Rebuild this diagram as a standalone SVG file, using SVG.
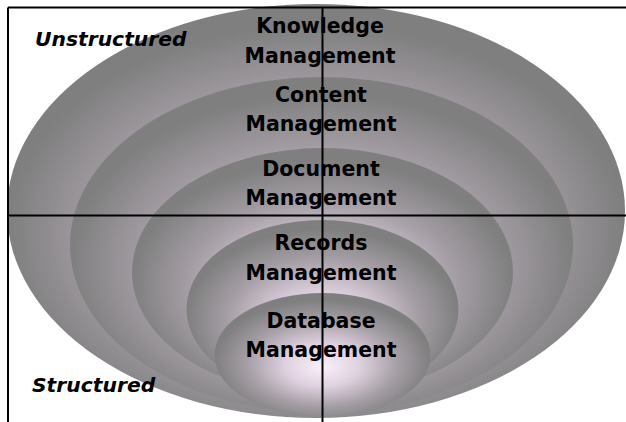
<svg xmlns="http://www.w3.org/2000/svg" width="626" height="422" viewBox="0 0 626 422">
  <defs>
    <radialGradient id="glow" cx="0.5" cy="0.55" r="0.5" fx="0.5" fy="0.6">
      <stop offset="0" stop-color="#fcf0fc"/>
      <stop offset="0.35" stop-color="#ded0de"/>
      <stop offset="0.7" stop-color="#a59ea5"/>
      <stop offset="1" stop-color="#7f7f7f"/>
    </radialGradient>
  </defs>
  <style>
    .ring { fill: url(#glow); }
    .label { font-family: "DejaVu Sans", Verdana, sans-serif; font-weight: bold; font-size: 20.5px; fill: #000; text-anchor: middle; }
    .axis-label { font-family: "DejaVu Sans", Verdana, sans-serif; font-weight: bold; font-style: italic; font-size: 20.3px; fill: #000; }
    .axis { stroke: #000; stroke-width: 2; fill: none; }
  </style>
  <rect width="626" height="422" fill="#fff"/>

  <g id="knowledge-management">
    <ellipse class="ring" cx="316" cy="211" rx="309" ry="207"/>
  </g>
  <g id="content-management">
    <ellipse class="ring" cx="321.5" cy="245" rx="251.5" ry="168"/>
  </g>
  <g id="document-management">
    <ellipse class="ring" cx="322.5" cy="272" rx="190.5" ry="124"/>
  </g>
  <g id="records-management">
    <ellipse class="ring" cx="322.5" cy="309" rx="136" ry="89"/>
  </g>
  <g id="database-management">
    <ellipse class="ring" cx="322.5" cy="355" rx="108" ry="62"/>
  </g>

  <!-- quadrant axes and frame -->
  <g id="connectors">
    <line class="axis" x1="8" y1="7.5" x2="626" y2="7.5"/>
    <line class="axis" x1="8" y1="7.5" x2="8" y2="422"/>
    <line class="axis" x1="8" y1="215.5" x2="626" y2="215.5"/>
    <line class="axis" x1="322.5" y1="7.5" x2="322.5" y2="422"/>
  </g>

  <g id="labels">
    <text class="label" x="320" y="33">Knowledge</text>
    <text class="label" x="320" y="63">Management</text>
    <text class="label" x="321" y="102">Content</text>
    <text class="label" x="321" y="131">Management</text>
    <text class="label" x="321" y="176">Document</text>
    <text class="label" x="321" y="205">Management</text>
    <text class="label" x="321" y="250">Records</text>
    <text class="label" x="321" y="280">Management</text>
    <text class="label" x="321" y="328">Database</text>
    <text class="label" x="321" y="357">Management</text>
    <text class="axis-label" x="35" y="46">Unstructured</text>
    <text class="axis-label" x="32" y="392">Structured</text>
  </g>
</svg>
